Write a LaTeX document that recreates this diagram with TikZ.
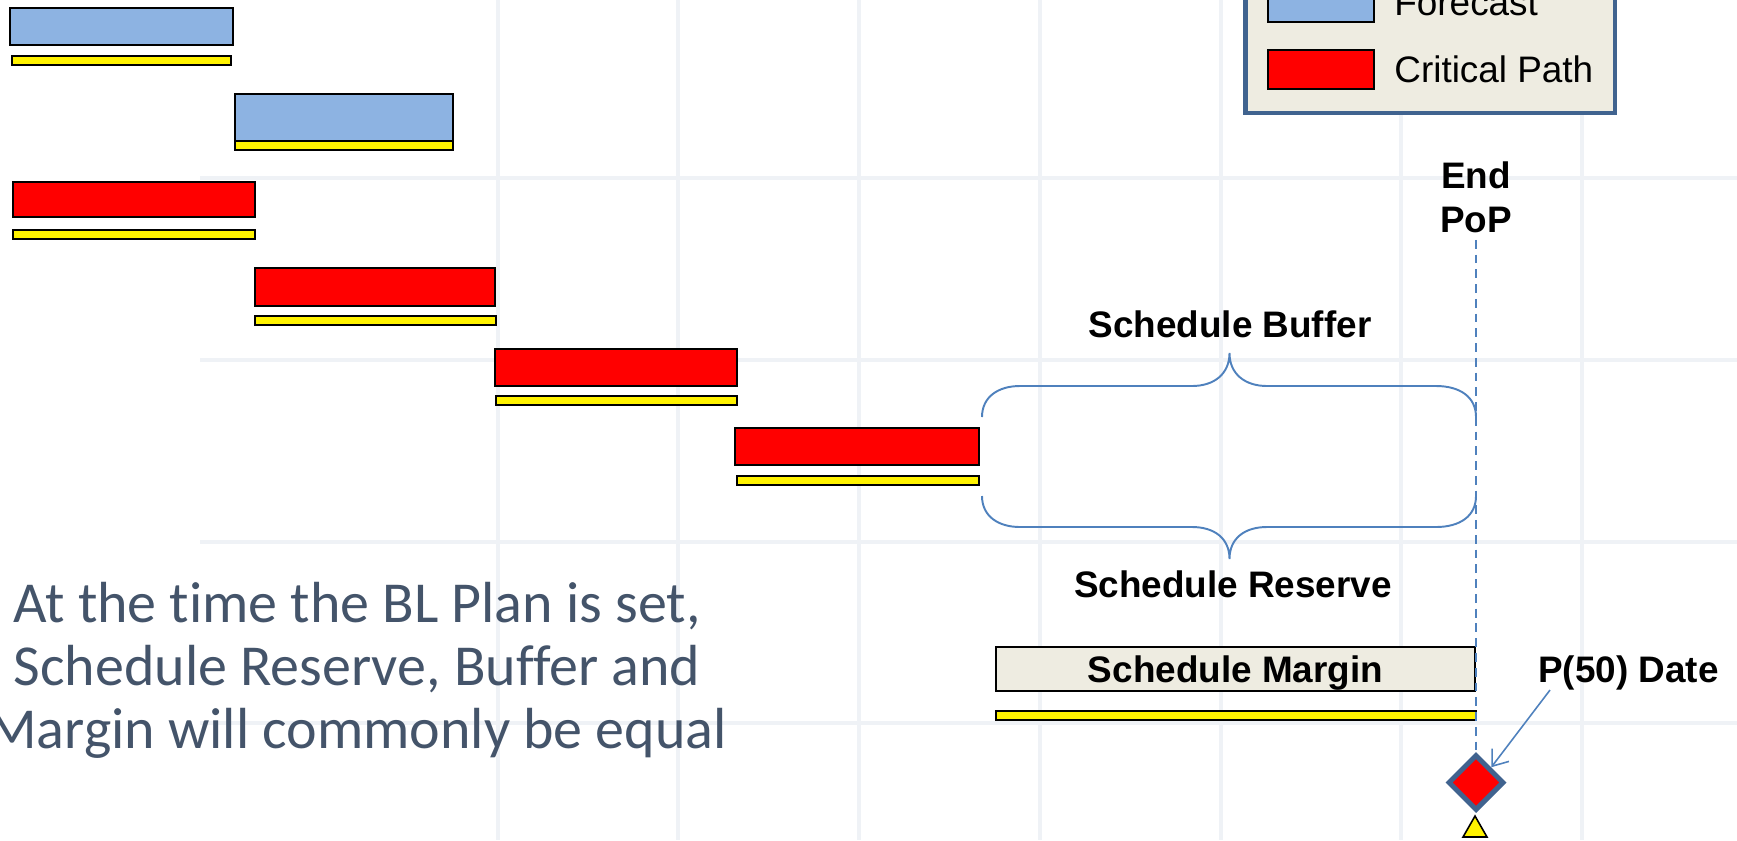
\documentclass[tikz,border=0pt]{standalone}
\usepackage{fontspec}
\setmainfont{Liberation Sans}
\newfontfamily\slidefont[Ligatures=NoCommon]{Carlito}
\usetikzlibrary{shapes.geometric}
\usetikzlibrary{arrows.meta}
\usetikzlibrary{positioning}

\definecolor{forecastBlue}{RGB}{141,179,226}
\definecolor{marginTan}{RGB}{238,236,225}
\definecolor{frameBlue}{RGB}{64,99,143}
\definecolor{braceBlue}{RGB}{79,129,189}
\definecolor{slideGrey}{RGB}{68,84,106}
\definecolor{gridGrey}{RGB}{239,242,246}

\begin{document}
\begin{tikzpicture}[x=0.02cm, y=-0.02cm,
	taskbar/.style={draw=black, line width=0.9pt},
	planbar/.style={draw=black, line width=0.9pt, fill=yellow},
	gridline/.style={gridGrey, line width=2.3pt},
	bigtext/.style={font=\fontsize{21}{25}\selectfont\bfseries, inner sep=0pt},
	keytext/.style={font=\fontsize{21}{25}\selectfont, inner sep=0pt},
	>={Straight Barb[length=8pt, width=12pt]}]

	\useasboundingbox (0,0) rectangle (1737,840);

% Draw background grid.

	\draw[gridline] (498, 0) -- (498, 840);
	\draw[gridline] (678, 0) -- (678, 840);
	\draw[gridline] (859, 0) -- (859, 840);
	\draw[gridline] (1040, 0) -- (1040, 840);
	\draw[gridline] (1221, 0) -- (1221, 840);
	\draw[gridline] (1401, 0) -- (1401, 840);
	\draw[gridline] (1582, 0) -- (1582, 840);

	\draw[gridline] (200, -4) -- (1737, -4);
	\draw[gridline] (200, 178) -- (1737, 178);
	\draw[gridline] (200, 360) -- (1737, 360);
	\draw[gridline] (200, 542) -- (1737, 542);
	\draw[gridline] (200, 723) -- (1737, 723);

% Draw tasks.

	%forecast
	\draw[taskbar, fill=forecastBlue] (10, 8) rectangle (233, 45);
	\draw[planbar] (12, 56) rectangle (231, 65);
	\draw[taskbar, fill=forecastBlue] (235, 94) rectangle (453, 141);
	\draw[planbar] (235, 141) rectangle (453, 150);

	%critical path
	\draw[taskbar, fill=red] (13, 182) rectangle (255, 217);
	\draw[planbar] (13, 230) rectangle (255, 239);
	\draw[taskbar, fill=red] (255, 268) rectangle (495, 306);
	\draw[planbar] (255, 316) rectangle (496, 325);
	\draw[taskbar, fill=red] (495, 349) rectangle (737, 386);
	\draw[planbar] (496, 396) rectangle (737, 405);
	\draw[taskbar, fill=red] (735, 428) rectangle (979, 465);
	\draw[planbar] (737, 476) rectangle (979, 485);

% Draw legend.

	\draw[frameBlue, line width=2.3pt, fill=marginTan] (1245.5, -60) rectangle (1615, 113);
	\node[taskbar, fill=forecastBlue, minimum width=2.11cm, minimum height=0.78cm, inner sep=0pt] (keyForecast) at (1321, 2.5) {};
	\node[taskbar, fill=red, minimum width=2.11cm, minimum height=0.78cm, inner sep=0pt] (keyCritical) at (1321, 69.5) {};
	\node[keytext, right=0.39cm of keyForecast] (keyForecastText) {Forecast};
	\node[keytext, right=0.39cm of keyCritical] (keyCriticalText) {Critical Path};

% Draw buffer and reserve.

	\draw[braceBlue, line width=1.1pt] (982, 417) .. controls (982, 397) and (998, 386) .. (1020, 386) -- (1192, 386)
		.. controls (1214, 386) and (1229.5, 374) .. (1229.5, 353)
		.. controls (1229.5, 374) and (1245, 386) .. (1267, 386) -- (1436, 386)
		.. controls (1460, 386) and (1476, 397) .. (1476, 417);
	\draw[braceBlue, line width=1.1pt] (982, 496) .. controls (982, 516) and (998, 527) .. (1020, 527) -- (1192, 527)
		.. controls (1214, 527) and (1229.5, 538) .. (1229.5, 559)
		.. controls (1229.5, 538) and (1245, 527) .. (1267, 527) -- (1436, 527)
		.. controls (1460, 527) and (1476, 516) .. (1476, 496);

	\node[bigtext, anchor=base] (bufferText) at (1230, 337) {Schedule Buffer};
	\node[bigtext, anchor=base] (reserveText) at (1233, 597) {Schedule Reserve};

% Draw margin.

	\node[taskbar, fill=marginTan, minimum width=9.59cm, minimum height=0.89cm, inner sep=0pt, text depth=0pt, font=\fontsize{21}{25}\selectfont\bfseries] (margin) at (1235.5, 669) {Schedule Margin};
	\draw[planbar] (996, 711) rectangle (1476, 720);

% Draw end of PoP.

	\node[bigtext, anchor=base, align=center] (endPoP) at (1476, 232) {End\\PoP};
	\node[diamond, draw=frameBlue, line width=2.85pt, fill=red, minimum width=1.12cm, minimum height=1.12cm, inner sep=0pt] (p50mark) at (1476, 782.5) {};
	\draw[planbar] (1463, 837) -- (1487, 837) -- (1475, 816) -- cycle;

	\draw[braceBlue, line width=1pt, dash pattern=on 5pt off 3.4pt] ([yshift=-4pt]endPoP.south) -- (p50mark.north);

	\node[bigtext, anchor=base west] (p50text) at (1538, 682) {P(50) Date};
	\draw[braceBlue, line width=0.9pt, ->] ([xshift=0.24cm]p50text.south west) -- (p50mark.north east);

% Draw note.

	\node[font=\slidefont\fontsize{33}{35.7}\selectfont, text=slideGrey, align=center, anchor=base, inner sep=0pt] (note) at (357, 748) {At the time the BL Plan is set,\\Schedule Reserve, Buffer and\\Margin will commonly be equal};

\end{tikzpicture}
\end{document}
